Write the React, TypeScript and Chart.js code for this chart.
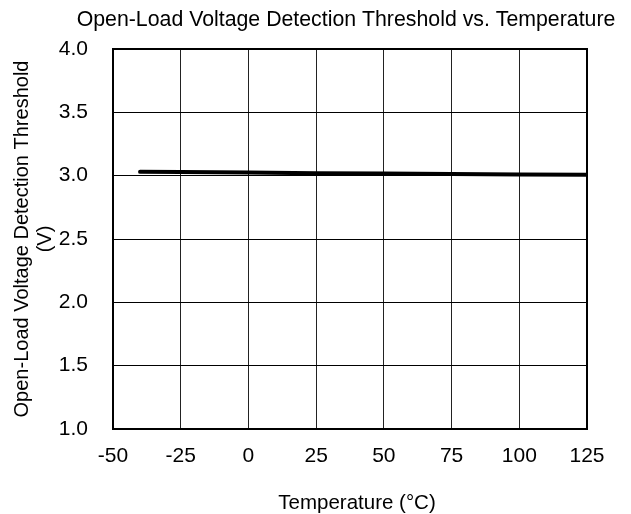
import React, { useEffect, useRef } from "react";
import { Chart, registerables } from "chart.js";

Chart.register(...registerables);

const temperatures = [-40, -25, 0, 25, 50, 75, 100, 125];
const thresholds = [3.03, 3.028, 3.025, 3.02, 3.018, 3.014, 3.009, 3.008];

const xMin = -50;
const xMax = 125;
const xStep = 25;
const yMin = 1.0;
const yMax = 4.0;
const yStep = 0.5;

const chartTitle = "Open-Load Voltage Detection Threshold vs. Temperature";
const xTitle = "Temperature (°C)";
const yTitle = ["Open-Load Voltage Detection Threshold", "(V)"];

const FONT = "'Liberation Sans', Arial, sans-serif";

const framePlugin = {
  id: "frame",
  afterDatasetsDraw(chart: any) {
    const { ctx, chartArea } = chart;
    ctx.save();
    ctx.strokeStyle = "#000";
    ctx.lineWidth = 2;
    ctx.strokeRect(chartArea.left, chartArea.top, chartArea.right - chartArea.left, chartArea.bottom - chartArea.top);
    ctx.restore();
  },
  afterDraw(chart: any) {
    const { ctx } = chart;
    ctx.save();
    ctx.fillStyle = "#000";
    ctx.textAlign = "center";
    ctx.textBaseline = "alphabetic";
    ctx.font = `21.3px ${FONT}`;
    ctx.fillText(chartTitle, 346, 26);
    ctx.font = `20.5px ${FONT}`;
    ctx.fillText(xTitle, 357, 509);
    ctx.restore();
  },
};

export default function App() {
  const ref = useRef<HTMLCanvasElement>(null);
  useEffect(() => {
    if (!ref.current) return;
    const chart = new Chart(ref.current, {
      type: "line",
      data: {
        datasets: [
          {
            data: temperatures.map((t, i) => ({ x: t, y: thresholds[i] })),
            borderColor: "#000",
            borderWidth: 4,
            borderCapStyle: "round",
            pointRadius: 0,
            tension: 0,
            fill: false,
          },
        ],
      },
      options: {
        animation: false,
        responsive: false,
        maintainAspectRatio: false,
        layout: { padding: { top: 49, right: 44, left: 0, bottom: 0 } },
        plugins: { legend: { display: false }, title: { display: false }, tooltip: { enabled: false } },
        scales: {
          x: {
            type: "linear",
            min: xMin,
            max: xMax,
            ticks: { stepSize: xStep, color: "#000", font: { family: FONT, size: 21 }, padding: 15 },
            grid: { color: "#222", lineWidth: 1, drawTicks: false },
            border: { display: false },
            title: { display: false },
            afterFit(scale: any) {
              scale.height = 85;
            },
          },
          y: {
            type: "linear",
            min: yMin,
            max: yMax,
            ticks: {
              stepSize: yStep,
              color: "#000",
              font: { family: FONT, size: 21 },
              padding: 25,
              callback: (v: any) => Number(v).toFixed(1),
            },
            grid: { color: "#000", lineWidth: 1, drawTicks: false },
            border: { display: false },
            title: {
              display: true,
              text: yTitle,
              color: "#000",
              font: { family: FONT, size: 20, lineHeight: 1.15 },
              padding: { top: 10.5, bottom: 0 },
            },
            afterFit(scale: any) {
              scale.width = 113;
            },
          },
        },
      },
      plugins: [framePlugin],
    });
    return () => chart.destroy();
  }, []);
  return (
    <div style={{ position: "fixed", left: 0, top: 0, width: 631, height: 514, background: "#fff" }}>
      <canvas ref={ref} width={631} height={514} style={{ display: "block", width: 631, height: 514 }} />
    </div>
  );
}
